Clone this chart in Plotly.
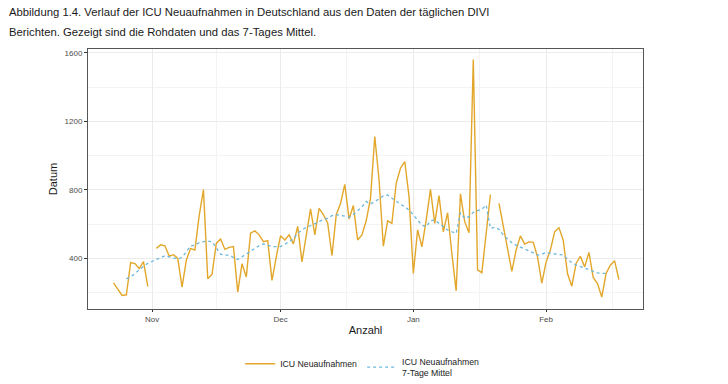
import pandas as pd
import plotly.graph_objects as go

start_date = "2020-10-23"
icu_neuaufnahmen = [
    257, 224, 184, 188, 376, 370, 341, 382, 237, None,
    459, 480, 474, 414, 422, 400, 233, 390, 459, 449,
    650, 802, 282, 308, 488, 514, 453, 465, 469, 204,
    370, 292, 548, 561, 538, 498, 504, 272, 410, 532,
    508, 538, 485, 587, 380, 528, 690, 538, 692, 656,
    607, 416, 656, 721, 833, 630, 709, 508, 538, 620,
    751, 1112, 858, 472, 620, 605, 839, 927, 966, 761,
    312, 566, 468, 624, 804, 605, 767, 556, 667, 429,
    211, 777, 615, 550, 1561, 334, 317, 546, 773, None,
    722, 585, 468, 325, 449, 532, 484, 497, 494, 409,
    256, 380, 449, 556, 580, 507, 312, 238, 371, 413,
    351, 435, 289, 254, 175, 312, 361, 386, 277,
]
mittel_7_tage = [
    None, None, None, 282, 292, 312, 335, 355, 371, 384,
    394, 404, 416, 410, 404, 396, 406, 439, 473, 478,
    492, 498, 502, 498, 465, 425, 420, 420, 406, 394,
    410, 426, 445, 463, 475, 485, 475, 469, 469, 469,
    483, 498, 514, 548, 567, 583, 591, 603, 617, 627,
    636, 650, 656, 650, 646, 642, 656, 680, 701, 733,
    718, 732, 751, 765, 771, 751, 732, 716, 702, 683,
    654, 624, 595, 585, 620, 624, 605, 585, 566, 556,
    546, 667, 634, 644, 669, 679, 687, 712, 576, 582,
    570, 537, 513, 492, 478, 465, 455, 445, 430, 420,
    424, 436, 430, 428, 424, 420, 397, 375, 362, 352,
    342, 332, 323, 316, 313, 313, None, None, None,
]
x_ticks = ["2020-11-01", "2020-12-01", "2021-01-01", "2021-02-01"]
x_tick_labels = ["Nov", "Dec", "Jan", "Feb"]
x_minor = ["2020-11-16", "2020-12-16 12:00", "2021-01-16 12:00", "2021-02-16 12:00"]
y_ticks = [400, 800, 1200, 1600]
y_minor = [200, 600, 1000, 1400]
title_lines = [
    "Abbildung 1.4. Verlauf der ICU Neuaufnahmen in Deutschland aus den Daten der täglichen DIVI",
    "Berichten. Gezeigt sind die Rohdaten und das 7-Tages Mittel.",
]

dates = pd.date_range(start_date, periods=len(icu_neuaufnahmen), freq="D")

fig = go.Figure()
fig.add_trace(go.Scatter(
    x=dates, y=icu_neuaufnahmen, mode="lines", name="ICU Neuaufnahmen",
    line=dict(color="#E2A72A", width=1.4), connectgaps=False,
))
fig.add_trace(go.Scatter(
    x=dates, y=mittel_7_tage, mode="lines", name="ICU Neuaufnahmen<br>7-Tage Mittel",
    line=dict(color="#6CB8DC", width=1.3, dash="dot"), connectgaps=False,
))

base_font = "Liberation Sans, Arial, Helvetica, sans-serif"
W, H = 728, 384
ML, MR, MT, MB = 88, 85, 49, 75
plot_w = W - ML - MR
plot_h = H - MT - MB

for line_text, y_center in zip(title_lines, [11.5, 31.5]):
    fig.add_annotation(
        text=line_text,
        xref="paper", yref="paper",
        x=-(ML - 7) / plot_w, xanchor="left",
        y=1 + (MT - y_center) / plot_h, yanchor="middle",
        align="left", showarrow=False,
        font=dict(family=base_font, size=11.3, color="#1A1A1A"),
    )

fig.update_layout(
    width=W, height=H,
    margin=dict(l=ML, r=MR, t=MT, b=MB, autoexpand=False),
    paper_bgcolor="white", plot_bgcolor="white",
    font=dict(family=base_font, size=8, color="#4D4D4D"),
    xaxis=dict(
        type="date",
        range=["2020-10-17 01:00", "2021-02-23 15:00"],
        tickvals=x_ticks, ticktext=x_tick_labels,
        ticks="outside", ticklen=2, tickcolor="#333333", tickwidth=1,
        showgrid=True, gridcolor="#EBEBEB", gridwidth=1,
        minor=dict(tickvals=x_minor, showgrid=True, gridcolor="#F3F3F3", gridwidth=0.6, ticks=""),
        showline=True, linecolor="#555555", linewidth=1, mirror=True,
        zeroline=False,
        title=dict(text="Anzahl", font=dict(size=11, color="#1A1A1A"), standoff=3),
        tickfont=dict(size=8, color="#4D4D4D"),
    ),
    yaxis=dict(
        range=[105, 1623],
        tickvals=y_ticks,
        ticks="outside", ticklen=3, tickcolor="#333333", tickwidth=1,
        showgrid=True, gridcolor="#EBEBEB", gridwidth=1,
        minor=dict(tickvals=y_minor, showgrid=True, gridcolor="#F3F3F3", gridwidth=0.6, ticks=""),
        showline=True, linecolor="#555555", linewidth=1, mirror=True,
        zeroline=False,
        title=dict(text="Datum", font=dict(size=11, color="#1A1A1A"), standoff=4),
        tickfont=dict(size=8, color="#4D4D4D"),
    ),
    legend=dict(
        orientation="h", x=0.494, xanchor="center", y=-0.155, yanchor="top",
        font=dict(size=8.7, color="#1A1A1A"), bgcolor="rgba(0,0,0,0)",
        itemwidth=30,
    ),
)

fig.write_html(
    "out.html",
    config={"displayModeBar": False},
    post_script="document.body.style.margin='0px';document.documentElement.style.overflow='hidden';",
)
